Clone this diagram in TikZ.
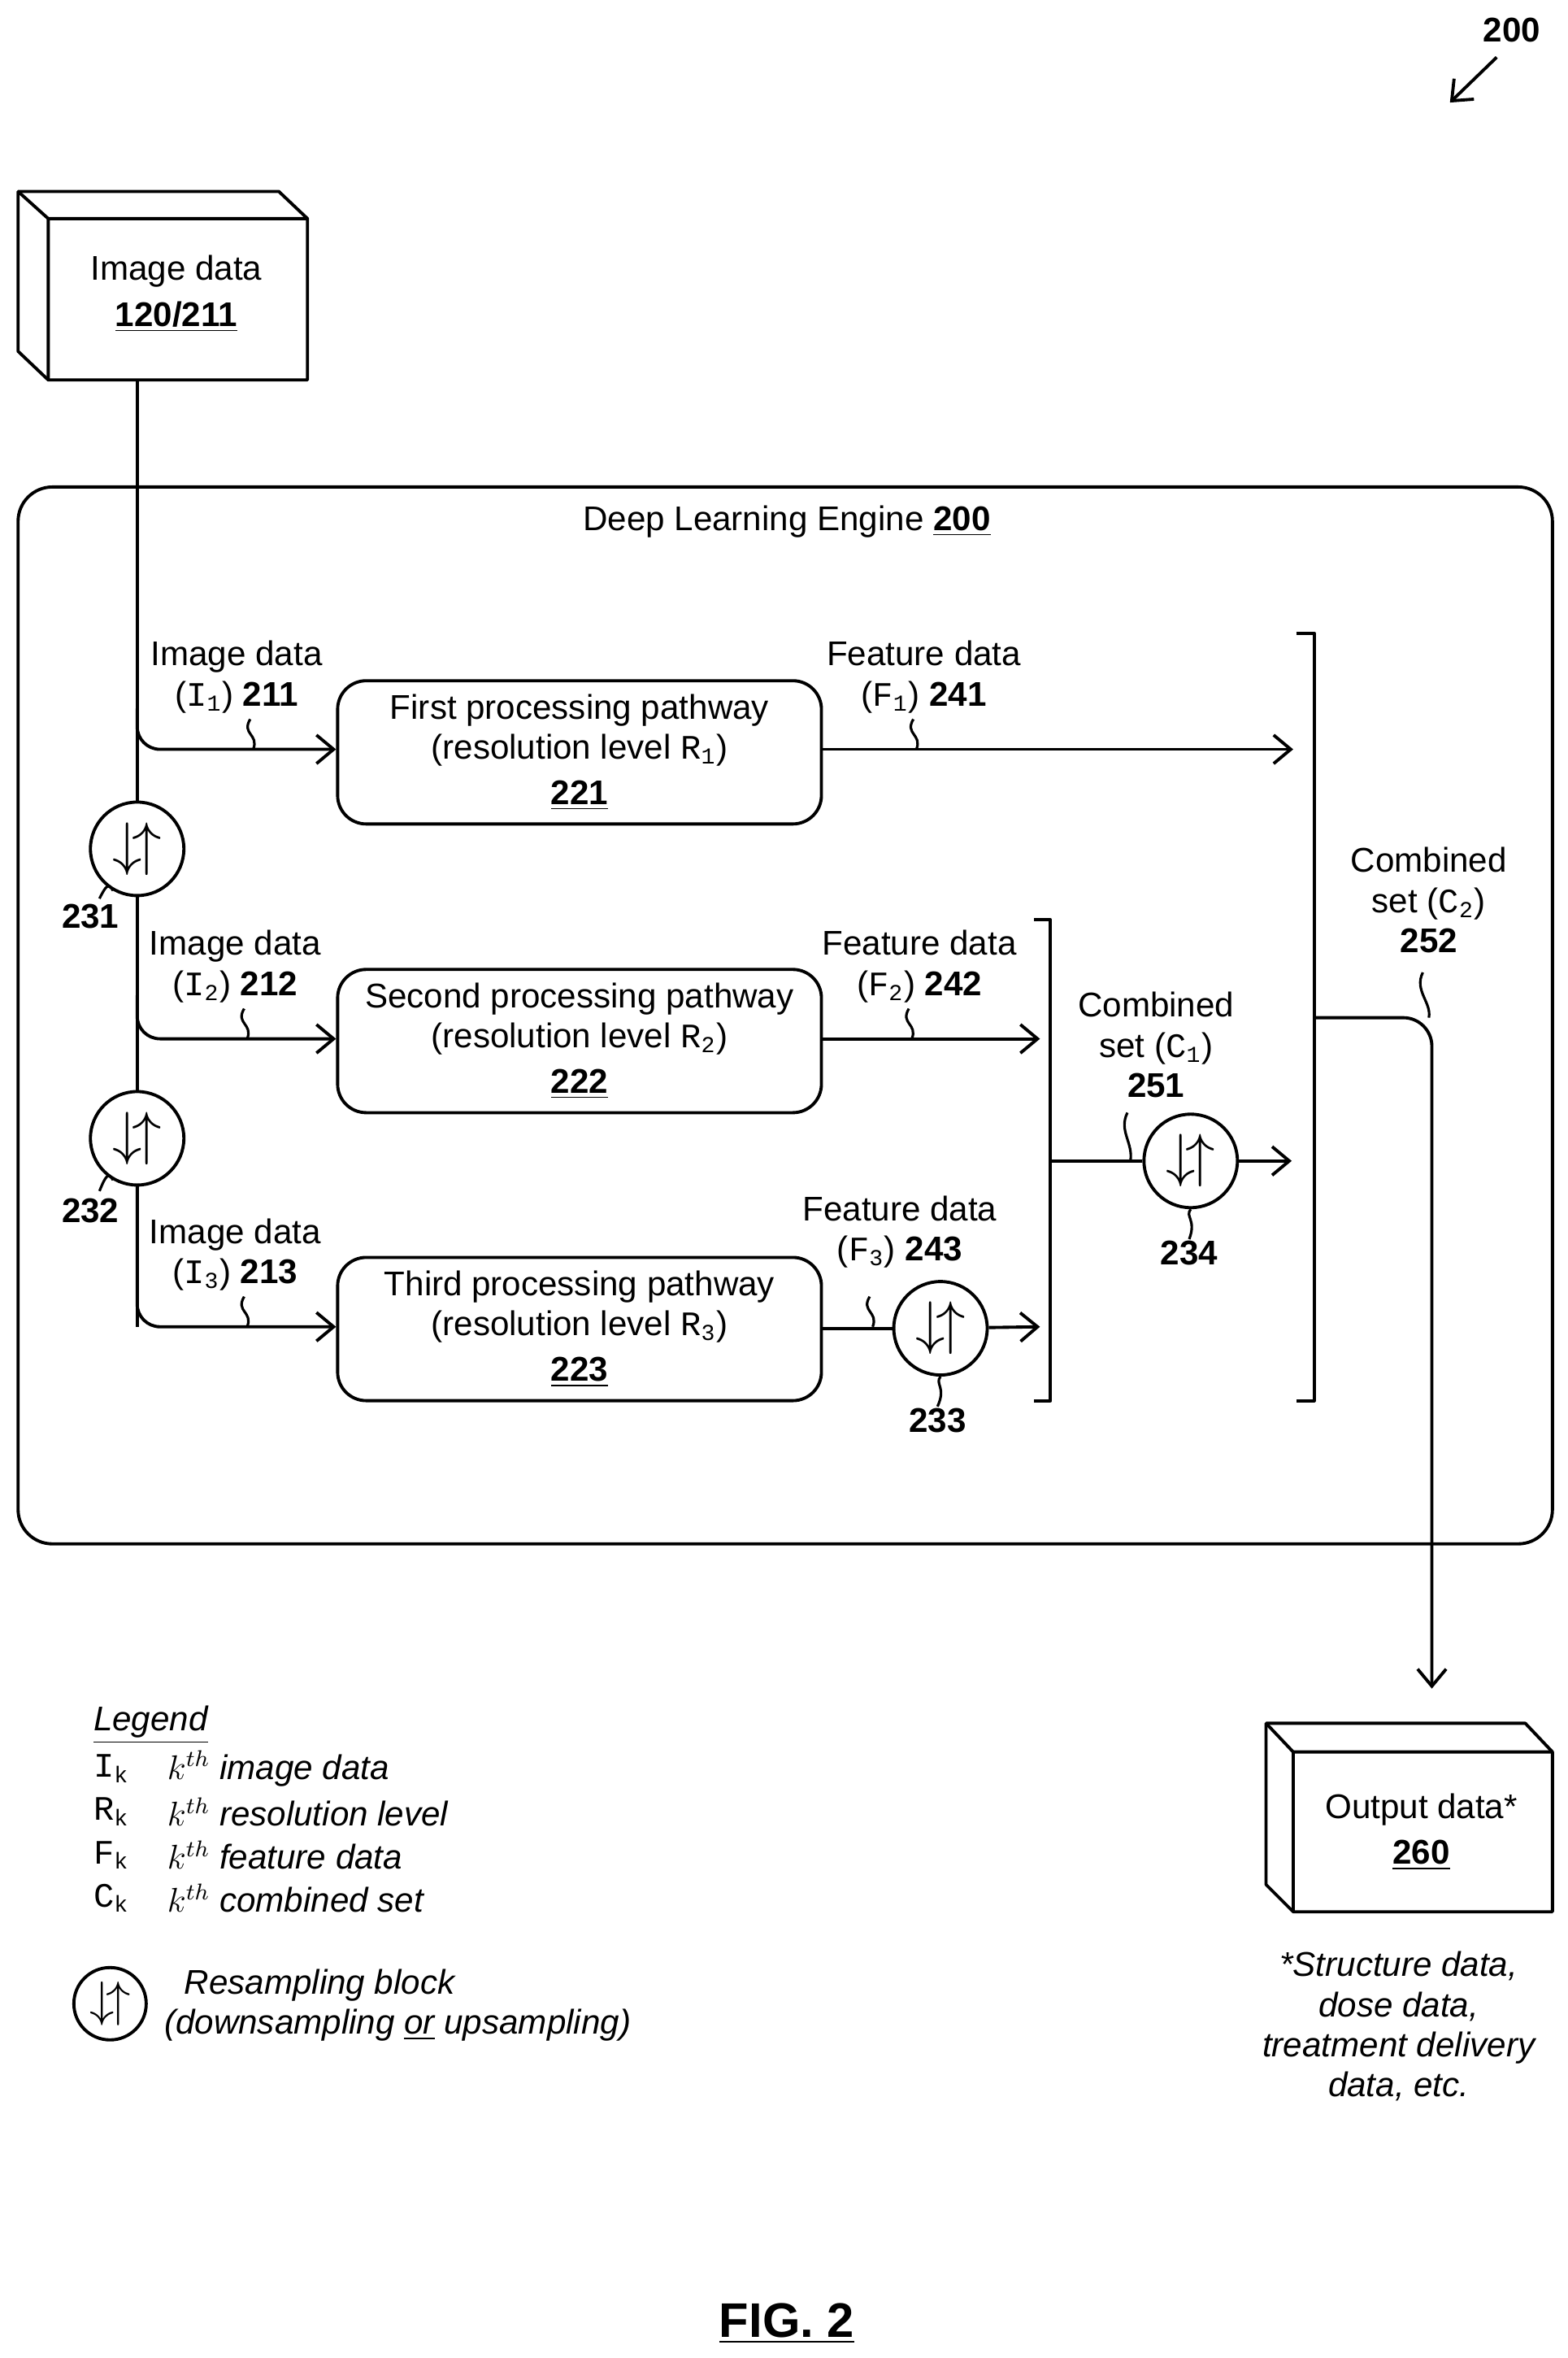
\documentclass[tikz,border=0pt]{standalone}
\usepackage{fontspec}
\setmainfont{Liberation Sans}
\setmonofont{Liberation Mono}
\usetikzlibrary{arrows.meta}
\newcommand\sym[2]{{\ttfamily #1\textsubscript{#2}}}
\newcommand\ul[1]{\underline{\textbf{#1}}}
\begin{document}
\begin{tikzpicture}[x=0.01855cm,y=-0.01855cm,
    font=\fontsize{12}{14}\selectfont,
    line width=1.1pt, line join=round,
    >={Straight Barb[length=6pt,width=10pt]},
    path/.style={draw, rounded corners=10pt, minimum width=321*0.01855cm, minimum height=95*0.01855cm, align=center, inner sep=0pt},
    resample/.style={draw, circle, minimum size=62*0.01855cm, inner sep=0pt, font=\fontsize{22}{22}\selectfont},
    txt/.style={inner sep=0pt, align=center},
    squig/.style={line width=0.9pt}]
\useasboundingbox (0,0) rectangle (1040,1564);

% reference number
\node (n200) [txt, font=\fontsize{12}{14}\selectfont\bfseries] at (1003,20) {200};
\coordinate (a200) at (962,68);
\draw[->] (993,38) -- (a200);

% image data cube
\draw (12,127) -- (185,127) -- (204,145) -- (204,252) -- (32,252) -- (12,233) -- cycle;
\draw (12,127) -- (32,145) -- (204,145) (32,145) -- (32,252);
\node (img) [txt] at (117,195) {Image data\\[2pt]\ul{120/211}};
\coordinate (top) at (91,252);

% engine
\draw[rounded corners=12pt] (12,323) rectangle (1030,1024);
\node (eng) [txt] at (522,346) {Deep Learning Engine \ul{200}};

% pathways
\node (p1) [path] at (384.5,499) {First processing pathway\\(resolution level \sym{R}{1})\\[2pt]\ul{221}};
\node (p2) [path] at (384.5,690.5) {Second processing pathway\\(resolution level \sym{R}{2})\\[2pt]\ul{222}};
\node (p3) [path] at (384.5,881.5) {Third processing pathway\\(resolution level \sym{R}{3})\\[2pt]\ul{223}};

% resampling blocks
\node (r231) [resample] at (91,563) {$\downarrow\!\uparrow$};
\node (r232) [resample] at (91,755) {$\downarrow\!\uparrow$};
\node (r233) [resample] at (624,881) {$\downarrow\!\uparrow$};
\node (r234) [resample] at (790,770) {$\downarrow\!\uparrow$};

% main line and branches
\draw (top) -- (r231) -- (r232);
\coordinate (j3) at (91,880);
\draw (r232) -- (j3);
\draw[->, rounded corners=8pt] (91,470) |- (p1.west |- 0,497);
\draw[->, rounded corners=8pt] (91,660) |- (p2.west |- 0,689);
\draw[->, rounded corners=8pt] (r232.south) |- (p3.west |- 0,880);

% image data labels
\node (l211) [txt] at (157,449) {Image data\\(\sym{I}{1}) \textbf{211}};
\node (l212) [txt] at (156,641) {Image data\\(\sym{I}{2}) \textbf{212}};
\node (l213) [txt] at (156,832) {Image data\\(\sym{I}{3}) \textbf{213}};
\foreach \x/\y in {166/497, 162/689, 162/880}
  \draw[squig] (\x,\y-20) .. controls (\x-6,\y-10) and (\x+6,\y-10) .. (\x+2,\y);

% feature outputs
\coordinate (f1) at (858,497);
\coordinate (f2) at (690,689);
\coordinate (f3) at (690,880);
\draw[->] (p1.east |- 0,497) -- (f1);
\draw[->] (p2.east |- 0,689) -- (f2);
\draw (p3.east |- 0,881) -- (r233);
\draw[->] (r233) -- (f3);
\node (l241) [txt] at (613,449) {Feature data\\(\sym{F}{1}) \textbf{241}};
\node (l242) [txt] at (610,641) {Feature data\\(\sym{F}{2}) \textbf{242}};
\node (l243) [txt] at (597,817) {Feature data\\(\sym{F}{3}) \textbf{243}};
\foreach \x/\y in {606/497, 603/689, 577/880}
  \draw[squig] (\x,\y-20) .. controls (\x-6,\y-10) and (\x+6,\y-10) .. (\x+2,\y);

% numbers under blocks
\node (l231) [txt, font=\fontsize{12}{14}\selectfont\bfseries] at (60,608) {231};
\node (l232) [txt, font=\fontsize{12}{14}\selectfont\bfseries] at (60,803) {232};
\node (l233) [txt, font=\fontsize{12}{14}\selectfont\bfseries] at (622,942) {233};
\node (l234) [txt, font=\fontsize{12}{14}\selectfont\bfseries] at (789,831) {234};
\draw[squig] (r231.-120) .. controls (72,585) and (70,588) .. (66,596);
\draw[squig] (r232.-120) .. controls (72,777) and (70,780) .. (66,790);
\draw[squig] (r233.south) .. controls (620,918) and (628,920) .. (l233.north);
\draw[squig] (r234.south) .. controls (786,807) and (794,809) .. (l234.north);

% combined set 1
\draw (686,610) -- (697,610) -- (697,929) -- (686,929);
\coordinate (b1) at (697,770);
\coordinate (c1) at (857,770);
\draw (b1) -- (r234);
\draw[->] (r234) -- (c1);
\node (l251) [txt] at (767,693) {Combined\\set (\sym{C}{1})\\\textbf{251}};
\draw[squig] (748,738) .. controls (742,750) and (752,758) .. (750,770);

% combined set 2
\draw (860,420) -- (872,420) -- (872,929) -- (860,929);
\coordinate (b2) at (872,675);
\coordinate (out) at (950,1120);
\draw[->, rounded corners=10pt] (b2) -| (out);
\node (l252) [txt] at (948,597) {Combined\\set (\sym{C}{2})\\\textbf{252}};
\draw[squig] (944,645) .. controls (938,657) and (950,665) .. (948,675);

% output cube
\draw (840,1143) -- (1012,1143) -- (1030,1162) -- (1030,1268) -- (858,1268) -- (840,1250) -- cycle;
\draw (840,1143) -- (858,1162) -- (1030,1162) (858,1162) -- (858,1268);
\node (outd) [txt] at (943,1215) {Output data*\\[2pt]\ul{260}};
\node (note) [txt, font=\fontsize{12}{14}\selectfont\itshape] at (928,1344) {*Structure data,\\dose data,\\treatment delivery\\data, etc.};

% legend
\node (leg) [txt, anchor=west, font=\fontsize{12}{14}\selectfont\itshape] at (61,1144) {\underline{Legend}};
\foreach \s/\t [count=\i from 0] in {I/image data, R/resolution level, F/feature data, C/combined set} {
  \node [txt, anchor=west] at (61,1173+28.7*\i) {\sym{\s}{k}};
  \node [txt, anchor=west, font=\fontsize{12}{14}\selectfont\itshape] at (110,1173+28.7*\i) {$k^{th}$ \t};
}
\node (rleg) [resample, minimum size=48*0.01855cm, font=\fontsize{17}{17}\selectfont] at (73,1329) {$\downarrow\!\uparrow$};
\node (rtxt) [txt, anchor=west, align=left, font=\fontsize{12}{14}\selectfont\itshape] at (108,1330) {\hspace{7pt}Resampling block\\(downsampling \underline{or} upsampling)};

\node (fig) [txt, font=\fontsize{17}{20}\selectfont\bfseries] at (522,1541) {\underline{FIG. 2}};
\end{tikzpicture}
\end{document}
